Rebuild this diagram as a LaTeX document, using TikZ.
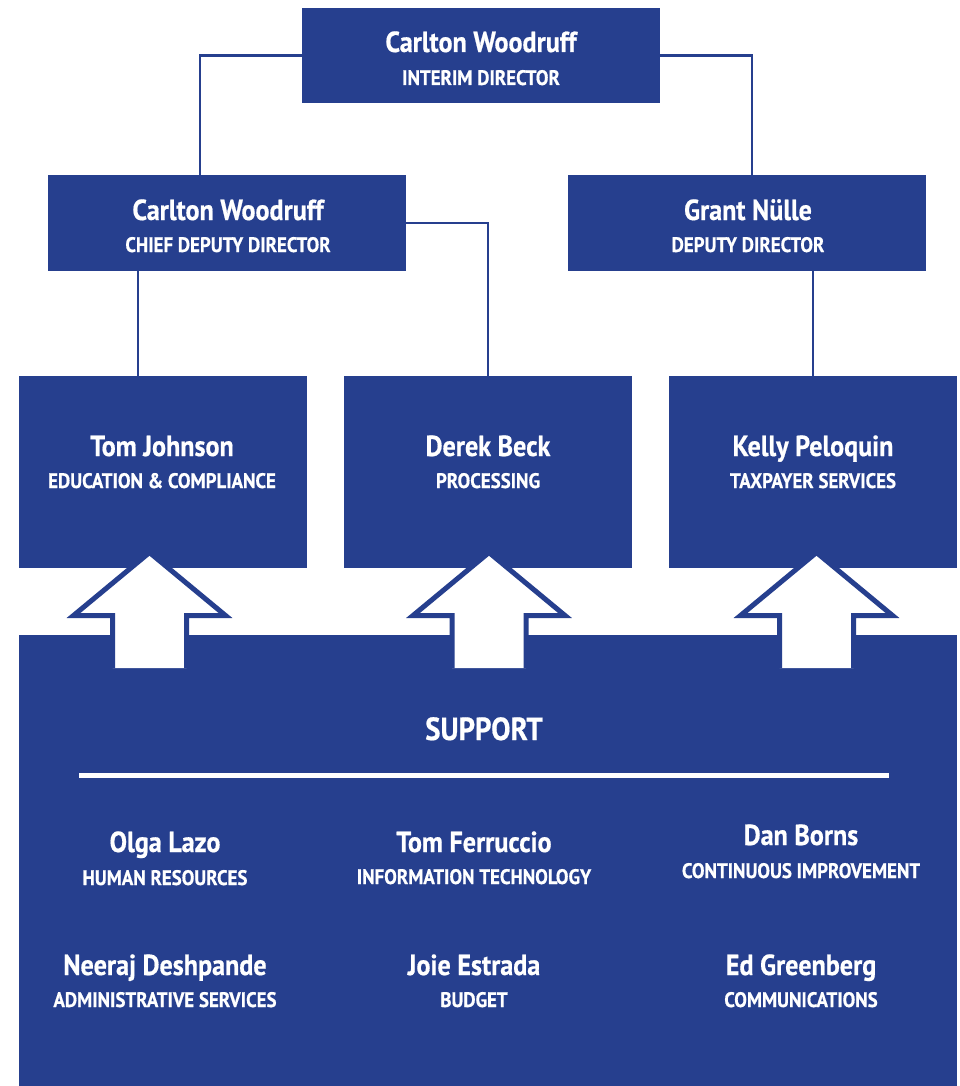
\documentclass[tikz,border=0pt]{standalone}
\usepackage{fontspec}
\setmainfont{PT Sans}[FakeStretch=0.9, BoldFeatures={FakeBold=0.6}]
\definecolor{navy}{RGB}{38,63,142}
\newcommand\nmfont{\fontsize{29}{32}\selectfont\bfseries}
\newcommand\ttlfont{\fontsize{21}{23}\selectfont\bfseries}
\newcommand\suparrow[1]{%
  \filldraw[fill=white, draw=navy, line width=5pt, line join=miter]
    (#1-37,668) -- (#1-37,615.5) -- (#1-76,615.5) -- (#1,552.5) -- (#1+76,615.5) -- (#1+37,615.5) -- (#1+37,668);
}
\tikzset{
  box/.style={fill=navy, draw=none, inner sep=0pt, outer sep=0pt},
  conn/.style={draw=navy, line width=2.2pt},
  nm/.style={text=white, anchor=base, inner sep=0pt, font=\nmfont},
  ttl/.style={text=white, anchor=base, inner sep=0pt, font=\ttlfont},
}
\begin{document}
\begin{tikzpicture}[x=1pt, y=-1pt]
\useasboundingbox (0,0) rectangle (960,1086);
\fill[white] (0,0) rectangle (960,1086);

% boxes
\node[box, minimum width=358pt, minimum height=95pt] (top) at (481,55.5) {};
\node[box, minimum width=358pt, minimum height=96pt] (chief) at (227,223) {};
\node[box, minimum width=358pt, minimum height=96pt] (grant) at (747,223) {};
\node[box, minimum width=288pt, minimum height=192pt] (tom) at (163,472) {};
\node[box, minimum width=288pt, minimum height=192pt] (derek) at (488,472) {};
\node[box, minimum width=288pt, minimum height=192pt] (kelly) at (813,472) {};
\node[box, minimum width=938pt, minimum height=455pt] (support) at (488,862.5) {};

% connectors
\coordinate (c1) at (200,175);
\coordinate (c2) at (752,175);
\coordinate (c3) at (138,271);
\draw[conn] (top.west) -| (c1);
\draw[conn] (top.east) -| (c2);
\draw[conn] (c3) -- (c3 |- tom.north);
\draw[conn] (chief.east) -| (derek.north);
\draw[conn] (kelly.north |- grant.south) -- (kelly.north);

% arrows
\suparrow{149.5}
\suparrow{489}
\suparrow{816.5}

% texts in boxes
\node[nm]  (t1) at (481,52)  {Carlton Woodruff};
\node[ttl] (t2) at (481,85)  {INTERIM DIRECTOR};
\node[nm]  (t3) at (228,220) {Carlton Woodruff};
\node[ttl] (t4) at (228,252) {CHIEF DEPUTY DIRECTOR};
\node[nm]  (t5) at (748,220) {Grant Nülle};
\node[ttl] (t6) at (748,252) {DEPUTY DIRECTOR};
\node[nm]  (t7) at (162,456) {Tom Johnson};
\node[ttl] (t8) at (162,488) {EDUCATION \& COMPLIANCE};
\node[nm]  (t9) at (488,456) {Derek Beck};
\node[ttl] (t10) at (488,488) {PROCESSING};
\node[nm]  (t11) at (813,456) {Kelly Peloquin};
\node[ttl] (t12) at (813,488) {TAXPAYER SERVICES};

% support
\node[text=white, anchor=base, inner sep=0pt, font=\fontsize{32}{36}\selectfont\bfseries] (sup) at (484,740) {SUPPORT};
\coordinate (l1) at (79,775.5);
\coordinate (l2) at (889,775.5);
\draw[white, line width=5pt] (l1) -- (l2);

\node[nm]  (s1) at (165,852) {Olga Lazo};
\node[ttl] (s2) at (165,885) {HUMAN RESOURCES};
\node[nm]  (s3) at (474,852) {Tom Ferruccio};
\node[ttl] (s4) at (474,884) {INFORMATION TECHNOLOGY};
\node[nm]  (s5) at (801,845) {Dan Borns};
\node[ttl] (s6) at (801,878) {CONTINUOUS IMPROVEMENT};
\node[nm]  (s7) at (165,975) {Neeraj Deshpande};
\node[ttl] (s8) at (165,1007) {ADMINISTRATIVE SERVICES};
\node[nm]  (s9) at (474,975) {Joie Estrada};
\node[ttl] (s10) at (474,1007) {BUDGET};
\node[nm]  (s11) at (801,975) {Ed Greenberg};
\node[ttl] (s12) at (801,1007) {COMMUNICATIONS};
\end{tikzpicture}
\end{document}
